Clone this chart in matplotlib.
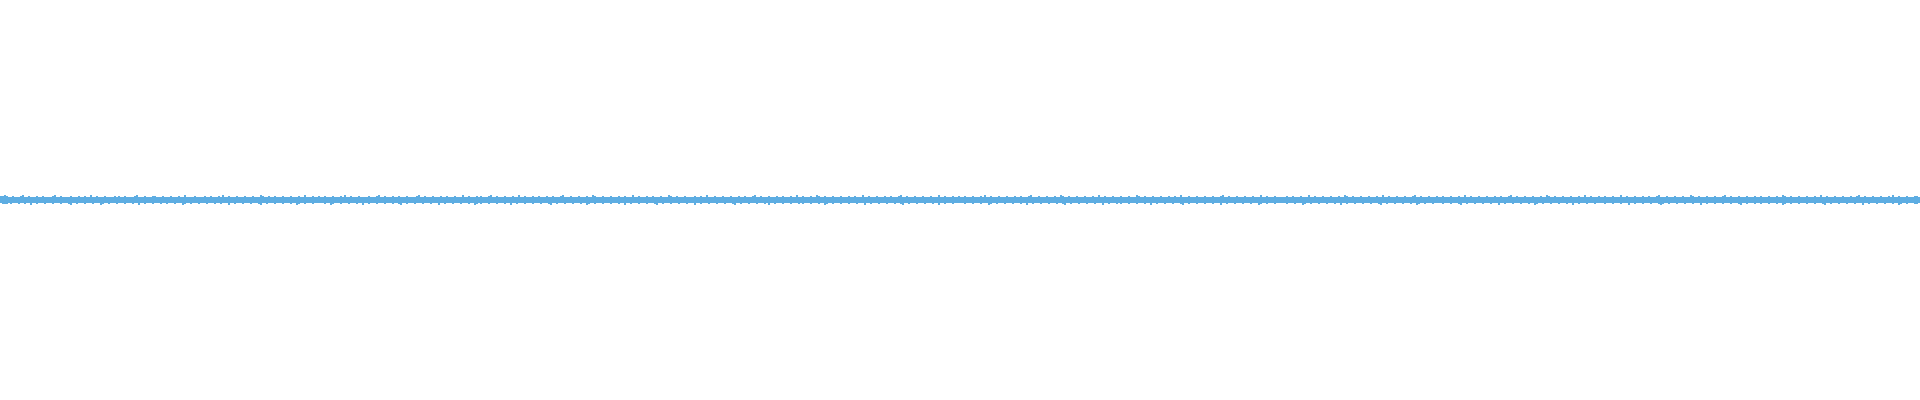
import matplotlib
matplotlib.use("Agg")
import matplotlib.pyplot as plt
import numpy as np

# peak amplitude (in pixels) above / below the centre line, one digit per 2px column
peaks_top = (
    "44543343334533433343343333453343333433343343353343334333343433433334533343334433"
    "34333433343353333433334334333435334333433343334333543343343334333433343353334334"
    "33433343334353343334333343334533433343343334333345334333433343343334333533433343"
    "43334533433343334335334333433433343343334533343334333433543334333433343343335334"
    "33343343334333543343334333343343353334333433343334334333453343334333433433343353"
    "34333433543343334333433343343335334333433343343334533433343334333433353343334334"
    "33433343334353343334333433343343334533343334333433543343334333433343353343334333"
    "43334333543343334333433343343353334333433343334333453343334333433343335334333433"
    "33343343334333533433343334333433543343334333433343353343334333433345334333433343"
    "34333433343353343334333433343343334533433343334333433543343334333433343353343334"
    "33433343335334333433343343334533343334333433354334333433343334533433343334333433"
    "43334333433543343334333433343353343334333433343345334333433343334353343334333443"
)
peaks_bot = (
    "34443433343343353343334333433343334533433343334333543343334333433343353343334333"
    "43343334333543343334333433343343335334333433343334533433343334333433543343334333"
    "33433543334333433343353343334333433343345334333433343334333533433343334333433543"
    "43334333433343353343334333433343334533433343334333433543343334333433343353343334"
    "33343334533433343334333433353343334333433343334533433343334333435334333433343334"
    "34333433343354334333433343334333533433343334333433453343334333433343353343334333"
    "33433343334333543343334333433343353343334333433343345334333433343334333533433343"
    "43334333433343353343334333433345334333433343334333533433343334333433354334333433"
    "33343334333543343334333433343353343334333433343334533433343334333433543343334333"
    "34333433345334333433343334333533433343334333433543343334333433343353343334333433"
    "33433343334333533433343334333454334333433343334333533433343334333433345334333433"
    "43334333433543343334333433343334533433343334333433353343334333433343354334333443"
)

top = np.array([int(c) for c in peaks_top], dtype=float)
bot = np.array([int(c) for c in peaks_bot], dtype=float)
n = min(len(top), len(bot))
top, bot = top[:n], bot[:n]

fig = plt.figure(figsize=(19.2, 4), dpi=100)
ax = fig.add_axes([0, 0, 1, 1])
ax.bar(np.arange(n), top + bot, bottom=-bot, width=1.0, align='edge',
       color='#5DADE2', linewidth=0)
ax.set_xlim(0, n)
ax.set_ylim(-200.3, 199.7)
ax.axis('off')
fig.savefig('out.png', dpi=100, facecolor='white')
